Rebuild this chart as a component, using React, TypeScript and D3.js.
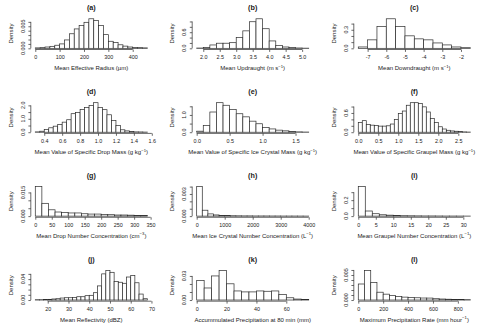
import * as d3 from "d3";
import { useEffect, useRef } from "react";

// Histogram densities, one value per bin, bins start at *Start and are *Step wide.
const radiusStart = 0, radiusStep = 20;
const radiusDensity = [0.0001, 0.00015, 0.0003, 0.00045, 0.0007, 0.001, 0.0019, 0.0033, 0.0044, 0.0052, 0.0059, 0.0067, 0.0063, 0.0052, 0.0031, 0.0016, 0.0013, 0.0008, 0.0005, 0.0003, 0.0002, 0.00015, 0.0001];

const updraughtStart = 1.8, updraughtStep = 0.2;
const updraughtDensity = [0.01, 0.025, 0.125, 0.19, 0.19, 0.21, 0.4, 0.65, 0.99, 1.1, 0.73, 0.275, 0.1, 0.05, 0.025, 0.0125, 0.006];

const downdraughtStart = -7.5, downdraughtStep = 0.5;
const downdraughtDensity = [0.022, 0.137, 0.355, 0.478, 0.355, 0.202, 0.153, 0.137, 0.087, 0.055, 0.022, 0.01];

const dropMassStart = 0.3, dropMassStep = 0.05;
const dropMassDensity = [0.025, 0.075, 0.2, 0.33, 0.45, 0.58, 0.75, 0.93, 1.38, 1.48, 1.7, 1.83, 2.0, 2.2, 1.83, 1.68, 1.3, 0.88, 0.5, 0.18, 0.1, 0.05, 0.025, 0.02, 0.01];

const iceMassStart = 0, iceMassStep = 0.1;
const iceMassDensity = [0.06, 0.39, 1.17, 1.71, 1.56, 1.32, 1.07, 0.89, 0.64, 0.49, 0.27, 0.19, 0.12, 0.08, 0.04, 0.02, 0.01];

const graupelMassStart = 0, graupelMassStep = 0.1;
const graupelMassDensity = [0.3, 0.36, 0.245, 0.22, 0.21, 0.19, 0.19, 0.2, 0.255, 0.4, 0.58, 0.66, 0.84, 0.92, 0.92, 0.89, 0.79, 0.63, 0.43, 0.3, 0.17, 0.1, 0.06, 0.04, 0.03, 0.02, 0.01, 0.005];

const dropNumberStart = 0, dropNumberStep = 20;
const dropNumberDensity = [0.0187, 0.0081, 0.004, 0.0026, 0.0022, 0.002, 0.002, 0.0015, 0.0013, 0.0013, 0.0011, 0.0009, 0.0007, 0.0007, 0.0006, 0.0004, 0.0003];

const iceNumberStart = 0, iceNumberStep = 200;
const iceNumberDensity = [0.004, 0.0008, 0.0003, 0.00016, 0.0001, 0.00007, 0.00005, 0.00004, 0.00003, 0.00003, 0.00002, 0.00002, 0.00002, 0.000015, 0.000015, 0.00001, 0.00001, 0.00001, 0.000008, 0.000005];

const graupelNumberStart = 0, graupelNumberStep = 2;
const graupelNumberDensity = [0.37, 0.064, 0.03, 0.017, 0.012, 0.008, 0.005, 0.004, 0.003, 0.002, 0.002, 0.0015, 0.001, 0.001, 0.0008, 0.0005];

const reflectivityStart = 14, reflectivityStep = 2;
const reflectivityDensity = [0.0006, 0.0006, 0.001, 0.0013, 0.002, 0.0025, 0.0038, 0.0044, 0.0044, 0.005, 0.0063, 0.0063, 0.0083, 0.009, 0.014, 0.027, 0.05, 0.0565, 0.053, 0.0356, 0.034, 0.032, 0.044, 0.047, 0.033, 0.0114, 0.0025];

const precipStart = 0, precipStep = 5;
const precipDensity = [0.0243, 0.015, 0.03, 0.0368, 0.0202, 0.0113, 0.0101, 0.0101, 0.0113, 0.0109, 0.0113, 0.0069, 0.0028, 0.0012, 0.0008];

const rateStart = 0, rateStep = 50;
const rateDensity = [0.0032, 0.0059, 0.0035, 0.00156, 0.00117, 0.0009, 0.0007, 0.00058, 0.0005, 0.00045, 0.0004, 0.00039, 0.00026, 0.0002, 0.00016, 0.00013, 0.0001, 0.00007];

// Axis ticks (x), y ticks and the y ticks that carry a label
const radiusTicks = [0, 100, 200, 300, 400];
const updraughtTicks = [2.0, 2.5, 3.0, 3.5, 4.0, 4.5, 5.0];
const downdraughtTicks = [-7, -6, -5, -4, -3, -2];
const dropMassTicks = [0.4, 0.6, 0.8, 1.0, 1.2, 1.4, 1.6];
const iceMassTicks = [0.0, 0.5, 1.0, 1.5];
const graupelMassTicks = [0.0, 0.5, 1.0, 1.5, 2.0, 2.5];
const dropNumberTicks = [0, 50, 100, 150, 200, 250, 300, 350];
const iceNumberTicks = [0, 1000, 2000, 3000, 4000];
const graupelNumberTicks = [0, 5, 10, 15, 20, 25, 30];
const reflectivityTicks = [20, 30, 40, 50, 60, 70];
const precipTicks = [0, 20, 40, 60];
const rateTicks = [0, 200, 400, 600, 800];

const radiusY = [0, 0.001, 0.002, 0.003, 0.004, 0.005, 0.006], radiusYLabels = [0, 0.005];
const updraughtY = [0, 0.2, 0.4, 0.6, 0.8, 1.0], updraughtYLabels = [0, 0.6];
const downdraughtY = [0, 0.1, 0.2, 0.3, 0.4], downdraughtYLabels = [0, 0.3];
const dropMassY = [0, 0.5, 1.0, 1.5, 2.0], dropMassYLabels = [0, 1.0, 2.0];
const iceMassY = [0, 0.5, 1.0, 1.5], iceMassYLabels = [0, 1.0];
const graupelMassY = [0, 0.2, 0.4, 0.6, 0.8], graupelMassYLabels = [0, 0.6];
const dropNumberY = [0, 0.005, 0.01, 0.015], dropNumberYLabels = [0, 0.015];
const iceNumberY = [0, 0.001, 0.002, 0.003, 0.004], iceNumberYLabels = [0, 0.003];
const graupelNumberY = [0, 0.1, 0.2, 0.3], graupelNumberYLabels = [0, 0.2];
const reflectivityY = [0, 0.01, 0.02, 0.03, 0.04, 0.05], reflectivityYLabels = [0, 0.04];
const precipY = [0, 0.01, 0.02, 0.03], precipYLabels = [0, 0.03];
const rateY = [0, 0.001, 0.002, 0.003, 0.004, 0.005, 0.006], rateYLabels = [0, 0.005];

type AxisTitle = { text: string; sup?: string; tail?: string };

type Panel = {
    tag: string;
    title: AxisTitle;
    start: number;
    step: number;
    density: number[];
    xTicks: number[];
    yTicks: number[];
    yLabels: number[];
};

const panels: Panel[] = [
    { tag: "(a)", title: { text: "Mean Effective Radius (µm)" }, start: radiusStart, step: radiusStep, density: radiusDensity, xTicks: radiusTicks, yTicks: radiusY, yLabels: radiusYLabels },
    { tag: "(b)", title: { text: "Mean Updraught (m s", sup: "−1", tail: ")" }, start: updraughtStart, step: updraughtStep, density: updraughtDensity, xTicks: updraughtTicks, yTicks: updraughtY, yLabels: updraughtYLabels },
    { tag: "(c)", title: { text: "Mean Downdraught (m s", sup: "−1", tail: ")" }, start: downdraughtStart, step: downdraughtStep, density: downdraughtDensity, xTicks: downdraughtTicks, yTicks: downdraughtY, yLabels: downdraughtYLabels },
    { tag: "(d)", title: { text: "Mean Value of Specific Drop Mass (g kg", sup: "−1", tail: ")" }, start: dropMassStart, step: dropMassStep, density: dropMassDensity, xTicks: dropMassTicks, yTicks: dropMassY, yLabels: dropMassYLabels },
    { tag: "(e)", title: { text: "Mean Value of Specific Ice Crystal Mass (g kg", sup: "−1", tail: ")" }, start: iceMassStart, step: iceMassStep, density: iceMassDensity, xTicks: iceMassTicks, yTicks: iceMassY, yLabels: iceMassYLabels },
    { tag: "(f)", title: { text: "Mean Value of Specific Graupel Mass (g kg", sup: "−1", tail: ")" }, start: graupelMassStart, step: graupelMassStep, density: graupelMassDensity, xTicks: graupelMassTicks, yTicks: graupelMassY, yLabels: graupelMassYLabels },
    { tag: "(g)", title: { text: "Mean Drop Number Concentration (cm", sup: "−3", tail: ")" }, start: dropNumberStart, step: dropNumberStep, density: dropNumberDensity, xTicks: dropNumberTicks, yTicks: dropNumberY, yLabels: dropNumberYLabels },
    { tag: "(h)", title: { text: "Mean Ice Crystal Number Concentration (L", sup: "−1", tail: ")" }, start: iceNumberStart, step: iceNumberStep, density: iceNumberDensity, xTicks: iceNumberTicks, yTicks: iceNumberY, yLabels: iceNumberYLabels },
    { tag: "(i)", title: { text: "Mean Graupel Number Concentration (L", sup: "−1", tail: ")" }, start: graupelNumberStart, step: graupelNumberStep, density: graupelNumberDensity, xTicks: graupelNumberTicks, yTicks: graupelNumberY, yLabels: graupelNumberYLabels },
    { tag: "(j)", title: { text: "Mean Reflectivity (dBZ)" }, start: reflectivityStart, step: reflectivityStep, density: reflectivityDensity, xTicks: reflectivityTicks, yTicks: reflectivityY, yLabels: reflectivityYLabels },
    { tag: "(k)", title: { text: "Accummulated Precipitation at 80 min (mm)" }, start: precipStart, step: precipStep, density: precipDensity, xTicks: precipTicks, yTicks: precipY, yLabels: precipYLabels },
    { tag: "(l)", title: { text: "Maximum Precipitation Rate (mm hour", sup: "−1", tail: ")" }, start: rateStart, step: rateStep, density: rateDensity, xTicks: rateTicks, yTicks: rateY, yLabels: rateYLabels },
];

const WIDTH = 484;
const HEIGHT = 326;
const PLOT_W = 121;
const PLOT_H = 31.9;
const COL_LEFT = [30.8, 192.2, 353.8];
const ROW_BOTTOM = [49.5, 133.4, 217.3, 301.2];
const FONT = '"Liberation Sans", Arial, Helvetica, sans-serif';
const INK = "#1a1a1a";

// R-style number printing: plain hyphen for negatives
const locale = d3.formatLocale({ decimal: ".", thousands: ",", grouping: [3], currency: ["", ""], minus: "-" });

export default function App() {
    const ref = useRef<SVGSVGElement | null>(null);

    useEffect(() => {
        if (!ref.current) return;
        const svg = d3.select(ref.current);
        svg.selectAll("*").remove();

        panels.forEach((p, i) => {
            const left = COL_LEFT[i % 3];
            const bottom = ROW_BOTTOM[Math.floor(i / 3)];
            const b0 = p.start;
            const bN = p.start + p.step * p.density.length;
            const span = bN - b0;

            // 4% padding on both axes, like base R's default "r" axis style
            const x = d3.scaleLinear()
                .domain([b0 - 0.04 * span, bN + 0.04 * span])
                .range([left, left + PLOT_W]);
            const peak = d3.max(p.density)!;
            const y = d3.scaleLinear()
                .domain([-0.04 * peak, 1.04 * peak])
                .range([bottom, bottom - PLOT_H]);

            const g = svg.append("g").attr("font-family", FONT);

            // Bars
            g.append("g")
                .selectAll("rect")
                .data(p.density)
                .join("rect")
                .attr("x", (_, k) => x(b0 + k * p.step))
                .attr("width", (_, k) => x(b0 + (k + 1) * p.step) - x(b0 + k * p.step))
                .attr("y", (d) => y(d))
                .attr("height", (d) => y(0) - y(d))
                .attr("fill", "#fff")
                .attr("stroke", "#2a2a2a")
                .attr("stroke-width", 0.7);

            // X axis: line runs from first to last tick only
            const xFmt = locale.format(`.${d3.precisionFixed(p.xTicks[1] - p.xTicks[0])}f`);
            const xa = g.append("g")
                .attr("transform", `translate(0,${bottom})`)
                .call(d3.axisBottom(x).tickValues(p.xTicks).tickSize(2.4).tickPadding(3.4).tickFormat((d) => xFmt(d as number)));
            xa.select(".domain").remove();
            xa.append("line")
                .attr("x1", x(p.xTicks[0]))
                .attr("x2", x(p.xTicks[p.xTicks.length - 1]))
                .attr("stroke", "#2a2a2a")
                .attr("stroke-width", 0.7);
            xa.attr("font-size", 5.4).attr("font-family", FONT);
            xa.selectAll(".tick line").attr("stroke", "#2a2a2a").attr("stroke-width", 0.7);
            xa.selectAll(".tick text").attr("fill", INK);

            // Y axis with labels parallel to the axis
            const ya = g.append("g")
                .attr("transform", `translate(${left},0)`)
                .call(d3.axisLeft(y).tickValues(p.yTicks).tickSize(2.4).tickFormat(() => ""));
            ya.select(".domain").remove();
            ya.append("line")
                .attr("y1", y(p.yTicks[0]))
                .attr("y2", y(p.yTicks[p.yTicks.length - 1]))
                .attr("stroke", "#2a2a2a")
                .attr("stroke-width", 0.7);
            ya.selectAll(".tick line").attr("stroke", "#2a2a2a").attr("stroke-width", 0.7);

            const yFmt = d3.format(`.${d3.precisionFixed(p.yTicks[1] - p.yTicks[0])}f`);
            g.append("g")
                .selectAll("text")
                .data(p.yLabels)
                .join("text")
                .attr("transform", (d) => `translate(${left - 7.8},${y(d)}) rotate(-90)`)
                .attr("text-anchor", "middle")
                .attr("dominant-baseline", "central")
                .attr("font-size", 5.4)
                .attr("fill", INK)
                .text((d) => yFmt(d));

            g.append("text")
                .attr("transform", `translate(${left - 20},${bottom - PLOT_H / 2}) rotate(-90)`)
                .attr("text-anchor", "middle")
                .attr("dominant-baseline", "central")
                .attr("font-size", 6)
                .attr("fill", INK)
                .text("Density");

            // Axis title, with optional superscript unit
            const lab = g.append("text")
                .attr("x", left + PLOT_W / 2)
                .attr("y", bottom + 18.3)
                .attr("text-anchor", "middle")
                .attr("dominant-baseline", "central")
                .attr("font-size", 6)
                .attr("fill", INK);
            lab.append("tspan").text(p.title.text);
            if (p.title.sup) {
                lab.append("tspan").attr("dy", -2.2).attr("font-size", 4.2).text(p.title.sup);
                lab.append("tspan").attr("dy", 2.2).text(p.title.tail ?? "");
            }

            // Panel tag
            g.append("text")
                .attr("x", left + PLOT_W / 2)
                .attr("y", bottom - PLOT_H - 10.3)
                .attr("text-anchor", "middle")
                .attr("dominant-baseline", "central")
                .attr("font-size", 7.2)
                .attr("font-weight", "bold")
                .attr("fill", INK)
                .text(p.tag);
        });
    }, []);

    return (
        <svg ref={ref} width={WIDTH} height={HEIGHT} style={{ position: "absolute", left: 0, top: 0, display: "block", background: "#fff" }}></svg>
    );
}
